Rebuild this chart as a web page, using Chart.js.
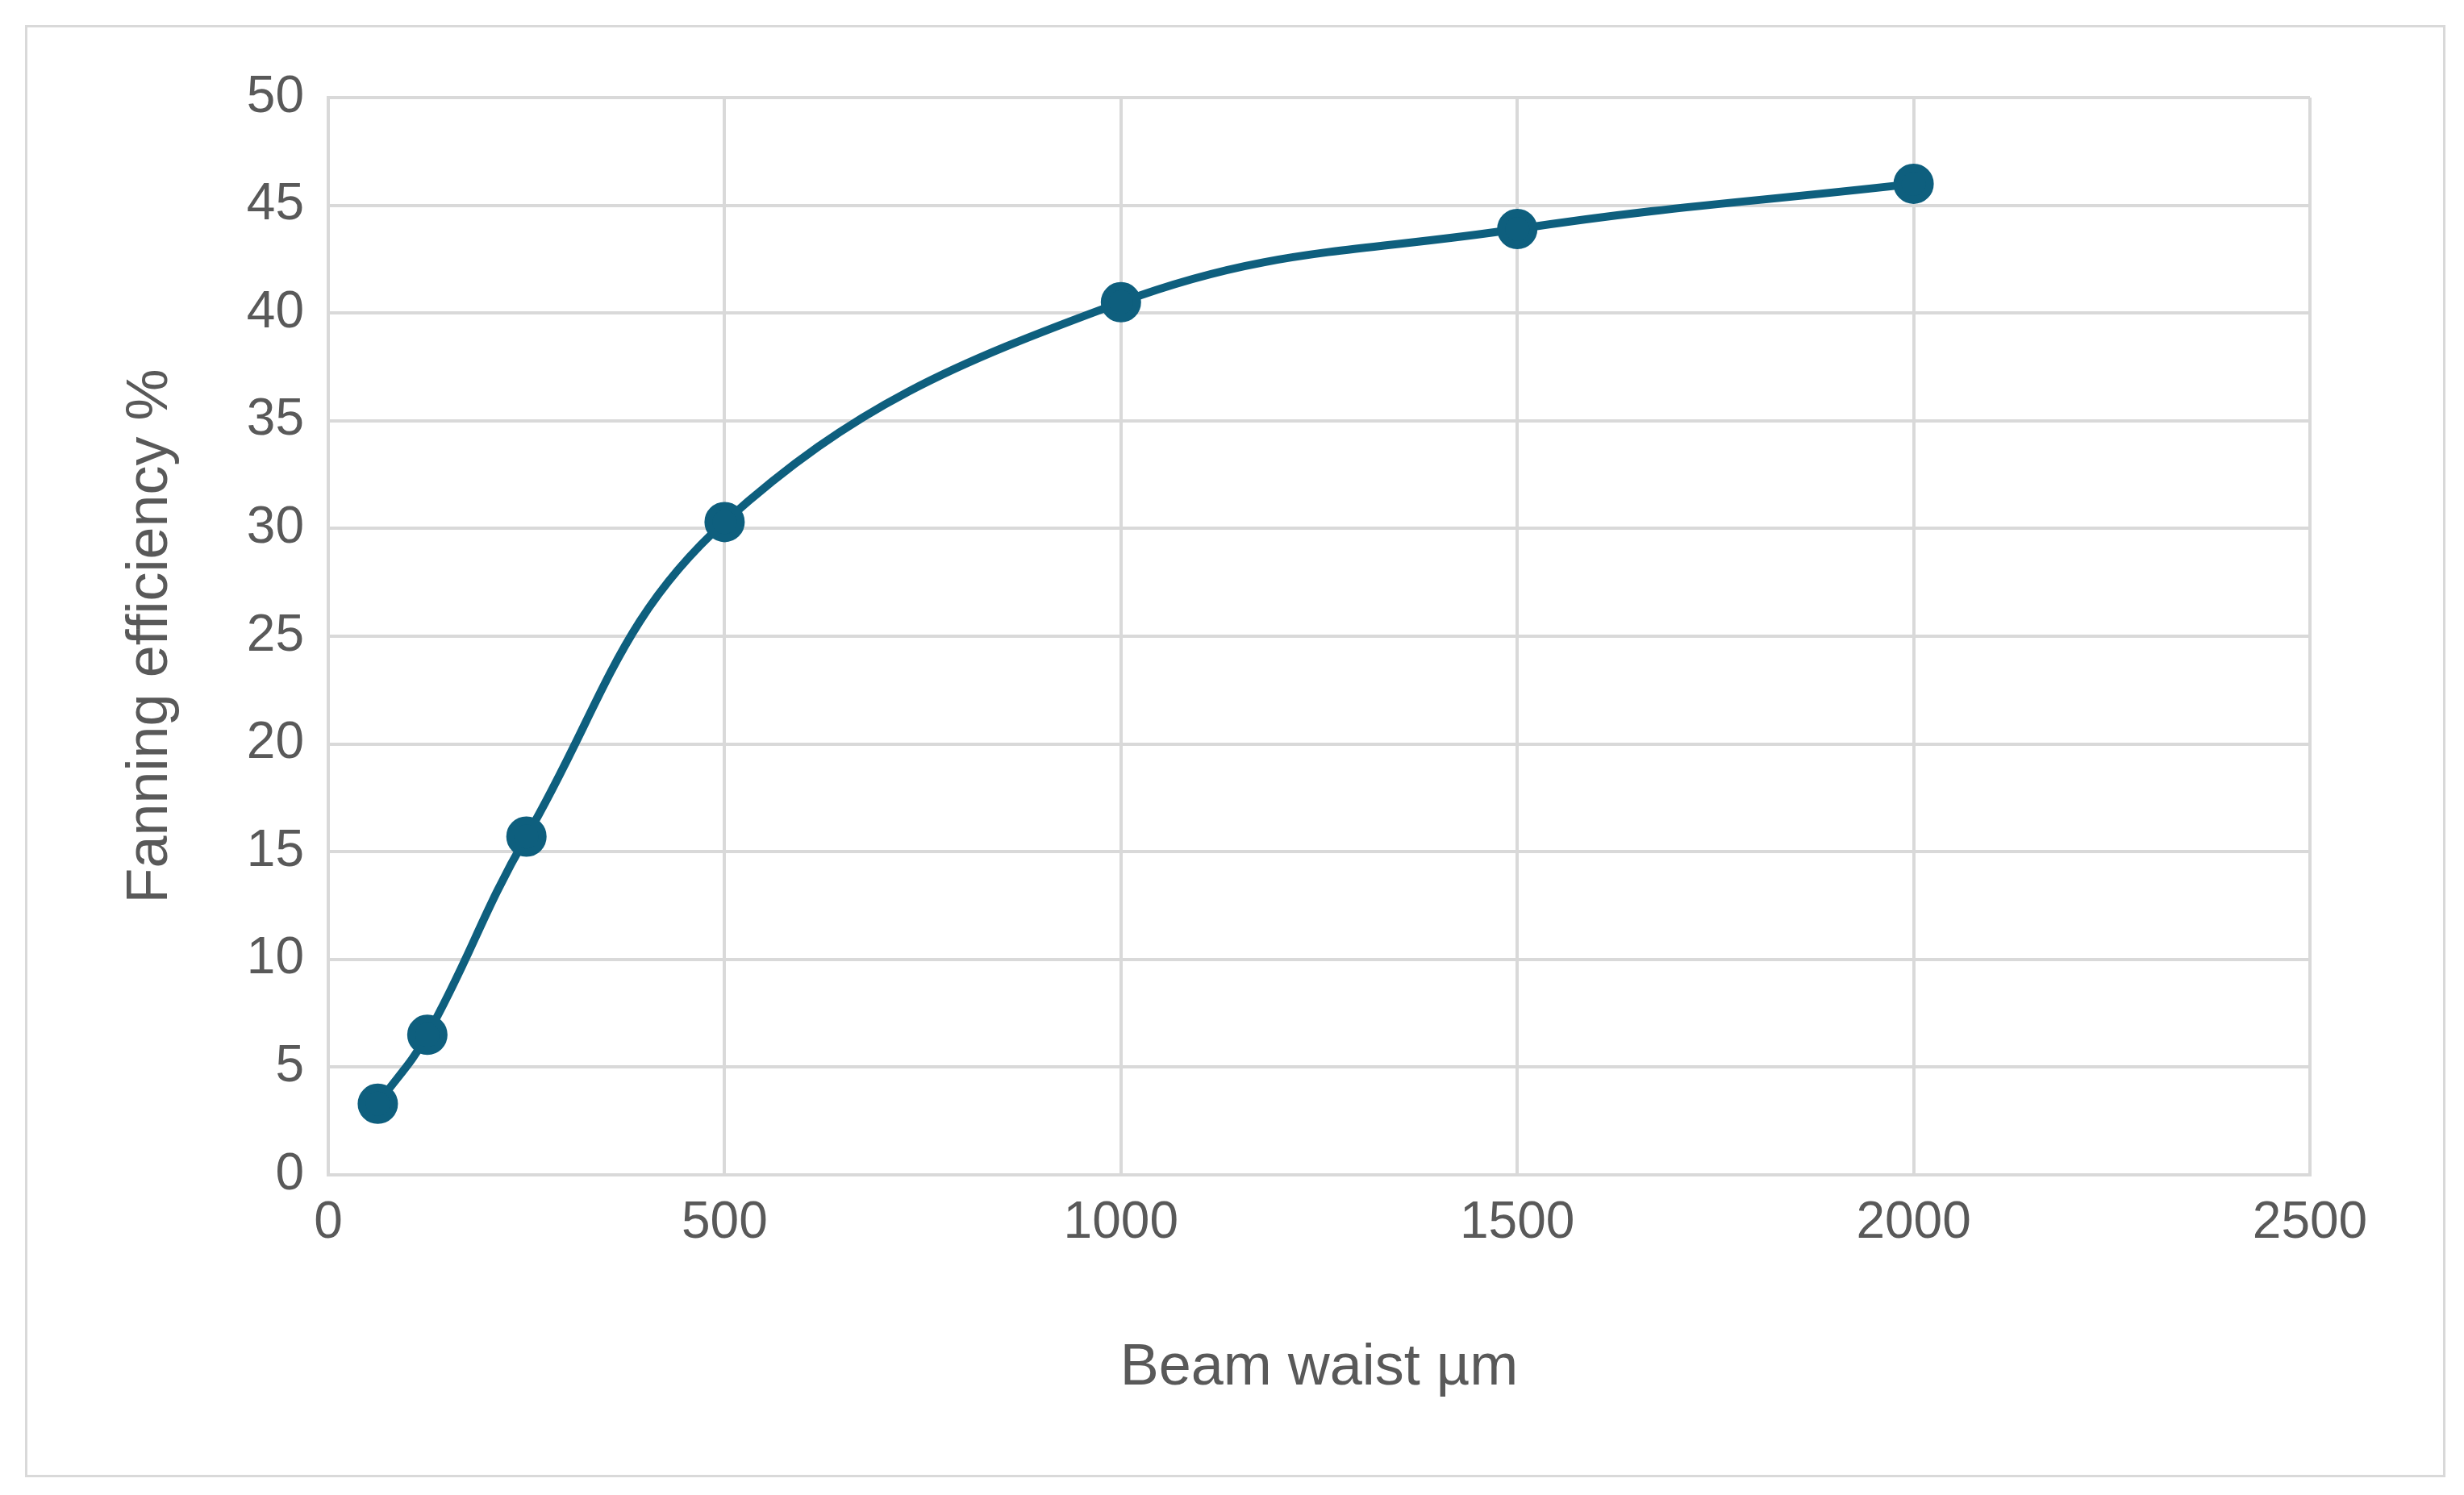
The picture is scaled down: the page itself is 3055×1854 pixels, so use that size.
<!DOCTYPE html>
<html>
<head>
<meta charset="utf-8">
<script src="https://cdn.jsdelivr.net/npm/chart.js@4/dist/chart.umd.min.js"></script>
<style>
  html, body { margin: 0; padding: 0; background: #fff; }
  #frame { position: absolute; left: 31px; top: 31px; width: 3001px; height: 1801px; border: 3px solid #d9d9d9; box-sizing: border-box; }
  #wrap { position: absolute; left: 0; top: 0; width: 3055px; height: 1854px; }
</style>
</head>
<body>
<div id="frame"></div>
<div id="wrap"><canvas id="chart"></canvas></div>
<script>
// beam waist (µm) vs fanning efficiency (%)
const beamWaist = [62.5, 125, 250, 500, 1000, 1500, 2000];
const efficiency = [3.3, 6.5, 15.7, 30.3, 40.5, 43.9, 46.0];
const lineColor = "#0e5f7e";

new Chart(document.getElementById("chart").getContext("2d"), {
    type: "scatter",
    data: {
        datasets: [{
            data: beamWaist.map((x, i) => ({ x, y: efficiency[i] })),
            showLine: true,
            tension: 0.4,
            borderColor: lineColor,
            backgroundColor: lineColor,
            borderWidth: 10,
            pointRadius: 20,
            pointHoverRadius: 20,
        }]
    },
    options: {
        responsive: true,
        maintainAspectRatio: false,
        animation: false,
        layout: { padding: { left: 140, right: 191, top: 121, bottom: 110 } },
        plugins: { legend: { display: false }, tooltip: { enabled: false } },
        scales: {
            x: {
                type: "linear", min: 0, max: 2500,
                afterFit: s => { s.height = 287; },
                ticks: { stepSize: 500, color: "#595959", font: { family: "Liberation Sans", size: 64 }, padding: 22, callback: v => String(v) },
                grid: { color: "#d9d9d9", lineWidth: 4, drawTicks: false },
                border: { color: "#d9d9d9", width: 4 },
                title: { display: true, text: "Beam waist µm", color: "#595959", font: { family: "Liberation Sans", size: 72 }, padding: { top: 50 } }
            },
            y: {
                min: 0, max: 50,
                afterFit: s => { s.width = 267; },
                ticks: { stepSize: 5, color: "#595959", font: { family: "Liberation Sans", size: 64 }, padding: 30 },
                grid: { color: "#d9d9d9", lineWidth: 4, drawTicks: false },
                border: { color: "#d9d9d9", width: 4 },
                title: { display: true, text: "Fanning efficiency %", color: "#595959", font: { family: "Liberation Sans", size: 72 }, padding: { bottom: 10 } }
            }
        }
    }
});
</script>
</body>
</html>
